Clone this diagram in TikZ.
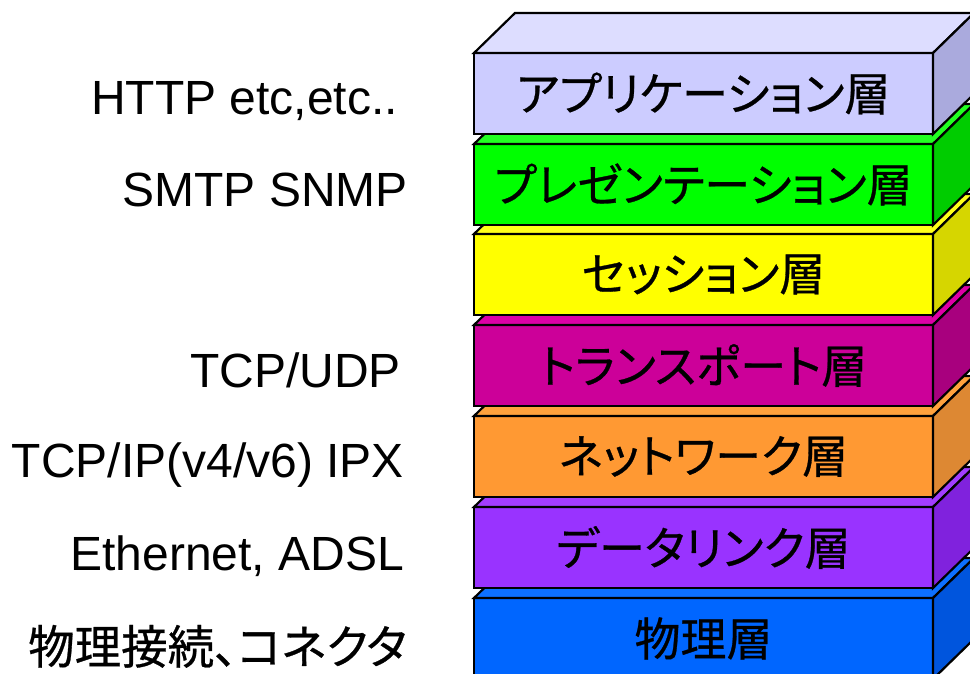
\documentclass[tikz,border=0pt]{standalone}
\usepackage{fontspec}
\setmainfont{Liberation Sans}
\newfontfamily\jpfont[RawFeature=+palt, FakeBold=0.6]{Noto Sans CJK JP}

% face colours: front / top / side
\definecolor{appF}{HTML}{CCCCFF}\definecolor{appT}{HTML}{DDDDFF}\definecolor{appS}{HTML}{AAAADD}
\definecolor{presF}{HTML}{00FF00}\definecolor{presT}{HTML}{22FF22}\definecolor{presS}{HTML}{00CC00}
\definecolor{sessF}{HTML}{FFFF00}\definecolor{sessT}{HTML}{FFFF1A}\definecolor{sessS}{HTML}{D6D600}
\definecolor{transF}{HTML}{CC0099}\definecolor{transT}{HTML}{DD00A6}\definecolor{transS}{HTML}{A8007E}
\definecolor{netF}{HTML}{FF9933}\definecolor{netT}{HTML}{FFA23D}\definecolor{netS}{HTML}{DD8833}
\definecolor{linkF}{HTML}{9933FF}\definecolor{linkT}{HTML}{A23DFF}\definecolor{linkS}{HTML}{8022DD}
\definecolor{physF}{HTML}{0066FF}\definecolor{physT}{HTML}{0D70FF}\definecolor{physS}{HTML}{0055DD}

\tikzset{
  face/.style={draw=black, line width=2.2pt, line join=miter},
  frontface/.style={face, rectangle, minimum width=459pt, minimum height=81pt,
    inner sep=0pt, outer sep=0pt, font=\jpfont\fontsize{46}{55}\selectfont},
  proto/.style={anchor=base east, inner sep=0pt, font=\fontsize{48}{57}\selectfont},
  protojp/.style={anchor=base east, inner sep=0pt, font=\jpfont\fontsize{46.5}{56}\selectfont}
}

% one layer block: name, top edge of front face, front, top, side colour, title
\newcommand{\osilayer}[6]{%
  \node[frontface, fill=#3] (#1) at (703.5, #2+40.5) {#6};
  \filldraw[face, fill=#4] (#1.north west) -- ++(41,-40) -- ++(459,0) -- (#1.north east) -- cycle;
  \filldraw[face, fill=#5] (#1.north east) -- ++(41,-40) -- ++(0,81) -- (#1.south east) -- cycle;
}

\begin{document}
\begin{tikzpicture}[x=1pt,y=-1pt]
  \useasboundingbox (0,0) rectangle (970,674);
  \clip (0,0) rectangle (970,674);
  \fill[white] (0,0) rectangle (970,674);

  % stacked blocks, drawn from the bottom up
  \osilayer{phys}{598}{physF}{physT}{physS}{物理層}
  \osilayer{link}{507}{linkF}{linkT}{linkS}{データリンク層}
  \osilayer{net}{416}{netF}{netT}{netS}{ネットワーク層}
  \osilayer{trans}{325}{transF}{transT}{transS}{トランスポート層}
  \osilayer{sess}{234}{sessF}{sessT}{sessS}{セッション層}
  \osilayer{pres}{144}{presF}{presT}{presS}{プレゼンテーション層}
  \osilayer{app}{53}{appF}{appT}{appS}{アプリケーション層}

  % protocol examples beside each layer
  \node[proto] (pApp) at (398,115) {HTTP etc,etc..};
  \node[proto] (pPres) at (408,207) {SMTP SNMP};
  \node[proto] (pTrans) at (401,387) {TCP/UDP};
  \node[proto] (pNet) at (404,477) {TCP/IP(v4/v6) IPX};
  \node[proto] (pLink) at (404,570) {Ethernet, ADSL};
  \node[protojp] (pPhys) at (407,664) {物理接続、コネクタ};
\end{tikzpicture}
\end{document}
